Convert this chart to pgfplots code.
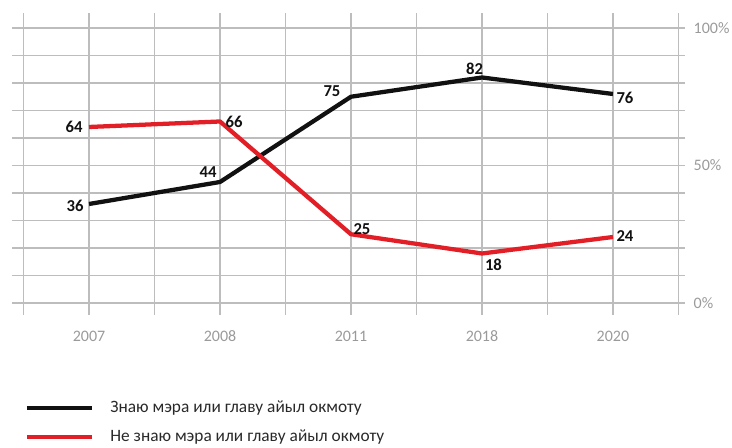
\documentclass[border=0pt]{standalone}
\usepackage{pgfplots}
\pgfplotsset{compat=1.18}
\usepackage{fontspec}
\setmainfont{Carlito}
\definecolor{gridc}{HTML}{BDBDBD}
\definecolor{tickc}{HTML}{9A9A9A}
\definecolor{redc}{HTML}{E21F26}
\definecolor{blk}{HTML}{111111}
\begin{document}
\begin{tikzpicture}
\useasboundingbox (0,0) rectangle (549pt,336pt);
\begin{axis}[
  at={(9pt,99.75pt)}, anchor=south west,
  scale only axis, width=504.75pt, height=226.5pt,
  xmin=-0.588, xmax=4.55, ymin=-4.36, ymax=105.45,
  axis line style={draw=none},
  xtick={-0.5,0,0.5,1,1.5,2,2.5,3,3.5,4,4.5},
  xticklabels={,2007,,2008,,2011,,2018,,2020,},
  ytick={0,10,20,30,40,50,60,70,80,90,100},
  yticklabels={0\%,,,,,50\%,,,,,100\%},
  yticklabel pos=right,
  grid=major, major grid style={draw=gridc, line width=0.8pt},
  major tick length=0pt,
  /pgf/number format/assume math mode=true,
  xticklabel style={font=\fontsize{12}{12}\selectfont, text=tickc, yshift=-8.5pt},
  yticklabel style={font=\fontsize{12}{12}\selectfont, text=tickc, xshift=3pt},
  clip=false,
  point meta=rawy,
  visualization depends on={value \thisrow{dx} \as \dx},
  visualization depends on={value \thisrow{dy} \as \dy},
  nodes near coords,
  nodes near coords style={anchor=center, xshift=\dx pt, yshift=\dy pt, font=\fontsize{12.5}{12.5}\selectfont\bfseries, text=blk},
  legend style={at={(0.0123,-0.356)}, anchor=west, draw=none, fill=none,
    font=\fontsize{13}{13}\selectfont, text=blk!90,
    nodes={text height=9pt, text depth=3pt},
    row sep=5.75pt, column sep=10pt},
  legend cell align=left,
  legend image code/.code={\draw[#1, line width=3.6pt] (0pt,0pt) -- (48.75pt,0pt);},
]
\addplot[blk, line width=3.2pt, line join=round] table {
x y dx dy
0 36 -10.5 -1.5
1 44 -9 7.5
2 75 -14.25 4.5
3 82 -5.6 6.75
4 76 9 -3
};
\addlegendentry{Знаю мэра или главу айыл окмоту}
\addplot[redc, line width=3.2pt, line join=round] table {
x y dx dy
0 64 -11.25 0
1 66 10.5 0
2 25 8.25 3.75
3 18 8.6 -8.25
4 24 9 1
};
\addlegendentry{Не знаю мэра или главу айыл окмоту}
\end{axis}
\end{tikzpicture}
\end{document}
